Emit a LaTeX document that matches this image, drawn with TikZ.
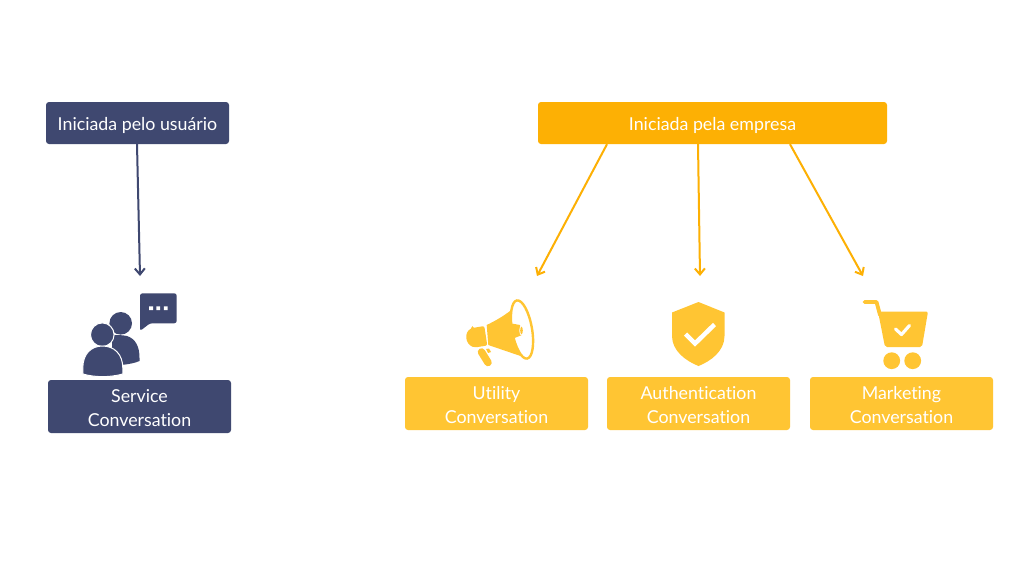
\documentclass[tikz,border=0pt]{standalone}
\usepackage{fontspec}
\setmainfont[Ligatures=NoCommon]{Lato}
\usetikzlibrary{arrows.meta}
\definecolor{navy}{HTML}{3F4870}
\definecolor{amber}{HTML}{FDB004}
\definecolor{gold}{HTML}{FFC533}
\newcommand{\shifta}{\rule{0pt}{18pt}}
\newcommand{\shiftb}{\rule{0pt}{16pt}}
\tikzset{
  labelbox/.style={rounded corners=3pt,inner sep=0pt,text=white,align=center,font=\fontsize{17.8}{23.5}\selectfont},
  navybox/.style={labelbox,fill=navy},
  amberbox/.style={labelbox,fill=amber},
  goldbox/.style={labelbox,fill=gold,minimum width=183pt,minimum height=53pt},
  navyarrow/.style={draw=navy,line width=2pt,-{Straight Barb[length=6pt,width=10pt]}},
  amberarrow/.style={draw=amber,line width=2pt,-{Straight Barb[length=6pt,width=10pt]}}
}
\begin{document}
\begin{tikzpicture}[x=1pt,y=-1pt]
\useasboundingbox (0,0) rectangle (1024,576);
\fill[white] (0,0) rectangle (1024,576);
% boxes
\node[navybox,minimum width=183pt,minimum height=42pt] (user) at (137.5,123) {\shifta Iniciada pelo usuário};
\node[navybox,minimum width=183pt,minimum height=53pt] (service) at (139.5,406.5) {\shiftb Service\\Conversation};
\node[amberbox,minimum width=349pt,minimum height=42pt] (company) at (712.5,123) {\shifta Iniciada pela empresa};
\node[goldbox] (utility) at (496.5,403.5) {\shiftb Utility\\Conversation};
\node[goldbox] (auth) at (698.5,403.5) {\shiftb Authentication\\Conversation};
\node[goldbox] (marketing) at (901.5,403.5) {\shiftb Marketing\\Conversation};
% connector ends
\coordinate (e1) at (140,276);
\coordinate (e2) at (537,276);
\coordinate (e3) at (700,276);
\coordinate (e4) at (863,276);
\draw[navyarrow] ([xshift=-0.5pt]user.south) -- (e1);
\draw[amberarrow] ([xshift=-105.5pt]company.south) -- (e2);
\draw[amberarrow] ([xshift=-14.5pt]company.south) -- (e3);
\draw[amberarrow] ([xshift=77.5pt]company.south) -- (e4);
% people icon
\fill[navy,rounded corners=2.5pt] (140,293.3) -- (176.7,293.3) -- (176.7,323.3) -- (150,323.3) -- (140,331) -- cycle;
\fill[white] (149.2,306.4) rectangle +(3.8,3.8) (156.4,306.4) rectangle +(3.8,3.8) (163.8,306.4) rectangle +(3.8,3.8);
\fill[navy] (120.7,323.3) circle (11.3);
\fill[navy] (112,335) .. controls (118,335) and (122,335) .. (127,336) .. controls (136,339) and (139.5,347) .. (139.5,358) -- (139.5,361) .. controls (135,363) and (128,364.5) .. (120,365) -- (112,365) -- cycle;
\fill[navy,draw=white,line width=1pt] (102.3,334.7) circle (11.8);
\fill[navy,draw=white,line width=1pt] (82.8,374) -- (82.8,368) .. controls (82.8,354) and (91,346) .. (102.5,346) .. controls (114,346) and (122.8,354) .. (122.8,368) -- (122.8,374) .. controls (110,377.5) and (95,377.5) .. (82.8,374) -- cycle;
% megaphone
\draw[gold,line width=2.4pt,rotate around={10:(522,329.5)}] (522,329.5) ellipse (10 and 29.5);
\fill[gold] (511.3,310) .. controls (503,316.5) and (495,321) .. (486.7,325) -- (488.3,345) -- (522,356.5) .. controls (518,350) and (515,344) .. (513.3,338.5) -- (522,335) -- (520,325) -- (511.7,323.5) -- cycle;
\fill[white] (521.5,330.5) ellipse (2.2 and 5);
\fill[gold] (521.5,330.5) ellipse (1.3 and 3.8);
\fill[gold,rounded corners=2pt] (472.5,328) -- (484.3,326) -- (487.3,345.5) -- (474.5,347.5) .. controls (465,344) and (464,332) .. (472.5,328) -- cycle;
\draw[gold,line width=7.5pt,line cap=round] (481.5,352) -- (488,362.5);
\fill[gold] (486,349) -- (489,348.5) -- (491,352) -- (488,353) -- cycle;
% shield
\fill[gold] (698.5,302) -- (724.5,312.5) -- (724.5,336) .. controls (724.5,351) and (711,361) .. (698.5,366) .. controls (686,361) and (672,351) .. (672,336) -- (672,312.5) -- cycle;
\draw[white,line width=4.5pt] (685.5,334) -- (695,343.5) -- (714.5,324.5);
% cart
\draw[gold,line width=3.8pt,line cap=round,line join=round] (864.5,302) -- (876.5,302) -- (880,315);
\fill[gold,rounded corners=2pt] (878,311.5) -- (928,311.5) -- (922,347) -- (885,347) -- cycle;
\draw[white,line width=3.2pt,line cap=round,line join=round] (895.5,329) -- (901.5,334.5) -- (909.5,325.5);
\fill[gold] (891.7,360.7) circle (8.4) (912.7,360.7) circle (8.4);
\end{tikzpicture}
\end{document}
